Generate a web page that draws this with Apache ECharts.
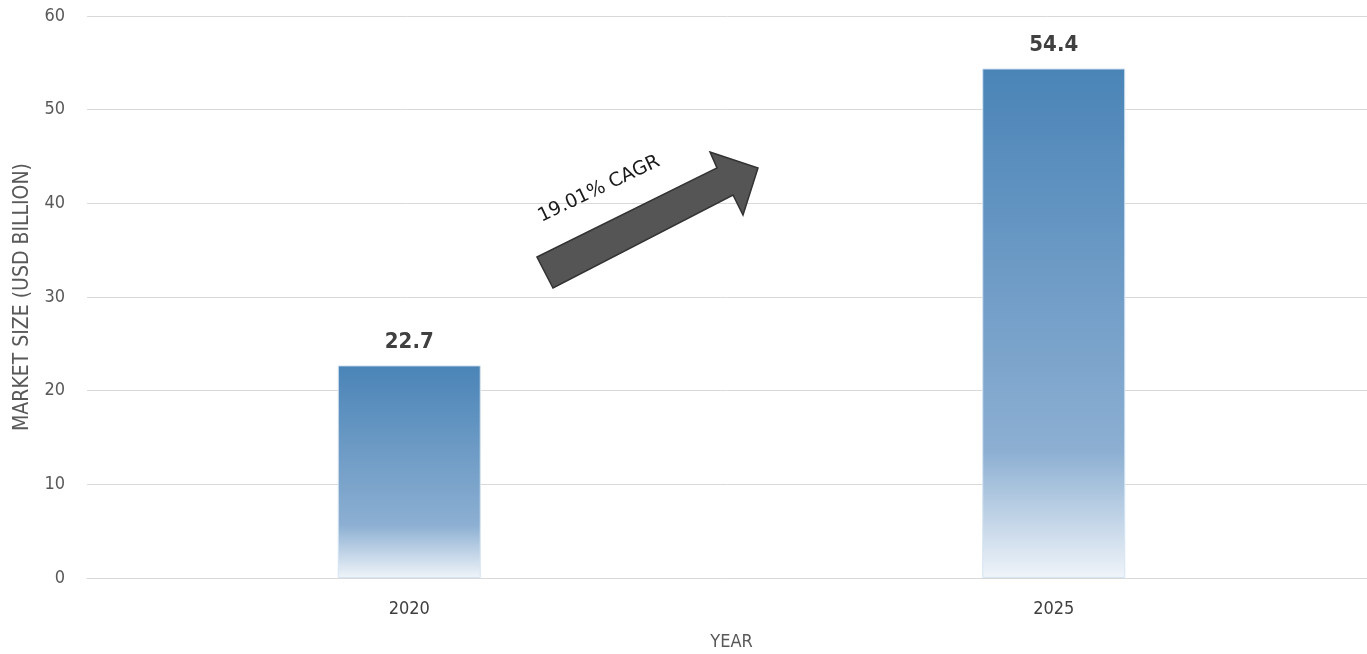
<!DOCTYPE html>
<html>
<head>
<meta charset="utf-8">
<script src="https://cdn.jsdelivr.net/npm/echarts@6/dist/echarts.min.js"></script>
<style>html,body{margin:0;padding:0;background:#fff;overflow:hidden}#c{width:1367px;height:654px}</style>
</head>
<body>
<div id="c"></div>
<script>
var categories = ['2020', '2025'];
var marketSize = [22.7, 54.4];
var yTicks = [0, 10, 20, 30, 40, 50, 60];
var cagrLabel = '19.01% CAGR';
var yAxisName = 'MARKET SIZE (USD BILLION)';
var xAxisName = 'YEAR';

var chart = echarts.init(document.getElementById('c'));
chart.setOption({
  animation: false,
  grid: { left: 87, right: -9, top: 16, bottom: 76, containLabel: false, outerBoundsMode: 'none' },
  xAxis: {
    type: 'category',
    data: categories,
    name: xAxisName,
    nameLocation: 'middle',
    nameGap: 55,
    nameTextStyle: { color: '#595959', fontSize: 18, fontFamily: 'DejaVu Sans Condensed, sans-serif' },
    axisLine: { show: true, lineStyle: { color: '#d9d9d9', width: 1 } },
    axisTick: { show: false },
    axisLabel: { color: '#404040', fontSize: 18, margin: 22, fontFamily: 'DejaVu Sans Condensed, sans-serif' }
  },
  yAxis: {
    type: 'value',
    min: 0, max: 60, interval: 10,
    name: yAxisName,
    nameLocation: 'middle',
    nameGap: 54,
    nameRotate: 90,
    nameTextStyle: { color: '#595959', fontSize: 21, fontFamily: 'DejaVu Sans Condensed, sans-serif' },
    axisLine: { show: false },
    axisTick: { show: false },
    axisLabel: { color: '#595959', fontSize: 18, margin: 22, fontFamily: 'DejaVu Sans Condensed, sans-serif',
      formatter: function (v) { return yTicks.indexOf(v) >= 0 ? String(v) : ''; } },
    splitLine: { lineStyle: { color: '#d9d9d9', width: 1 } }
  },
  series: [{
    type: 'bar',
    data: marketSize,
    barWidth: 143,
    itemStyle: {
      color: new echarts.graphic.LinearGradient(0, 0, 0, 1, [
        { offset: 0, color: '#4a84b7' },
        { offset: 0.75, color: '#8cafd2' },
        { offset: 1, color: '#eff4f9' }
      ]),
      borderColor: '#d5e4f2',
      borderWidth: 1
    },
    label: {
      show: true, position: 'top', distance: 12,
      color: '#404040', fontSize: 22, fontWeight: 'bold',
      fontFamily: 'DejaVu Sans Condensed, DejaVu Sans, sans-serif'
    }
  }],
  graphic: [
    {
      type: 'polygon',
      shape: { points: [[537,257],[717,168],[710,152],[758,168],[743,215],[733,195],[553,288]] },
      style: { fill: '#555555', stroke: '#333333', lineWidth: 1.5 },
      z: 10
    },
    {
      type: 'text',
      x: 599, y: 189,
      rotation: 25.5 * Math.PI / 180,
      style: {
        text: cagrLabel,
        fill: '#1a1a1a',
        font: '19px DejaVu Sans, sans-serif',
        align: 'center',
        verticalAlign: 'middle'
      },
      z: 10
    }
  ]
});
</script>
</body>
</html>
